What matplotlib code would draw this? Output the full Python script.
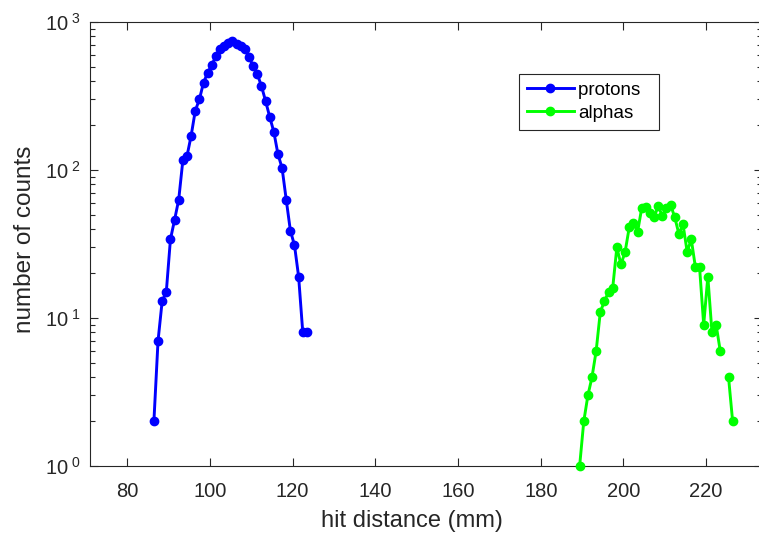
import numpy as np
import matplotlib
matplotlib.use('Agg')
import matplotlib.pyplot as plt
from matplotlib.ticker import FixedLocator, FixedFormatter

plt.rcParams['font.family'] = ['Liberation Sans', 'DejaVu Sans']
plt.rcParams['mathtext.fontset'] = 'custom'
plt.rcParams['mathtext.rm'] = 'Liberation Sans'
plt.rcParams['mathtext.it'] = 'Liberation Sans'

# proton hit distance histogram (mm, counts)
proton_x = np.arange(38) + 86.45
proton_counts = [2, 7, 13, 15, 34, 46, 63, 116, 124, 170, 251, 300, 389, 454,
                 512, 589, 654, 692, 725, 748, 709, 689, 654, 577, 507, 445,
                 370, 293, 229, 181, 128, 103, 63, 39, 31, 19, 8, 8]

# alpha hit distance histogram (nan = empty bin)
alpha_x = np.arange(38) + 189.4
alpha_counts = [1, 2, 3, 4, 6, 11, 13, 15, 16, 30, 23, 28, 41, 44, 38, 55, 56,
                51, 48, 57, 49, 55, 58, 48, 37, 43, 28, 34, 22, 22, 9, 19, 8,
                9, 6, np.nan, 4, 2]

yticks = [1, 10, 100, 1000]
ylabels = [r'$10^{\ 0}$', r'$10^{\ 1}$', r'$10^{\ 2}$', r'$10^{\ 3}$']

fig = plt.figure(figsize=(7.59, 5.37), dpi=100)
ax = fig.add_axes([90/759, 71/537, 672/759, 444/537])

ax.plot(proton_x, proton_counts, '-o', color=(0, 0, 1), lw=2.1, ms=6,
        label='protons  ', clip_on=False, zorder=3)
ax.plot(alpha_x, alpha_counts, '-o', color=(0, 1, 0), lw=2.1, ms=6,
        label='alphas', clip_on=False, zorder=3)

ax.set_yscale('log')
ax.set_ylim(1, 1000)
ax.set_xlim(71, 233.5)
ax.set_xticks(np.arange(80, 221, 20))
ax.yaxis.set_major_locator(FixedLocator(yticks))
ax.yaxis.set_major_formatter(FixedFormatter(ylabels))

dark = (0.15, 0.15, 0.15)
for s in ax.spines.values():
    s.set_color(dark)
    s.set_linewidth(0.8)
ax.tick_params(which='both', direction='in', top=True, right=True,
               colors=dark, labelsize=14.5, width=0.8)
ax.tick_params(which='major', length=6)
ax.tick_params(which='minor', length=3.5)
ax.tick_params(axis='x', which='major', pad=11.5)
ax.tick_params(axis='y', which='major', pad=7)
ax.tick_params(axis='x', which='minor', bottom=False, top=False)

ax.set_xlabel('hit distance (mm)', fontsize=17, color=dark)
ax.set_ylabel('number of counts', fontsize=17.5, color=dark)
ax.xaxis.set_label_coords((412 - 90) / 672, (466 - 510) / 444)
ax.yaxis.set_label_coords((36 - 90) / 672, 0.51)

leg = ax.legend(loc='upper left', bbox_to_anchor=((519 - 90) / 672, (466 - 74) / 444),
                fontsize=13.5, fancybox=False, framealpha=1, edgecolor=dark,
                handlelength=2.5, borderpad=0.42, labelspacing=0.3,
                handletextpad=0.25, borderaxespad=0)
leg.get_frame().set_linewidth(0.8)

plt.savefig('out.png', dpi=100)
